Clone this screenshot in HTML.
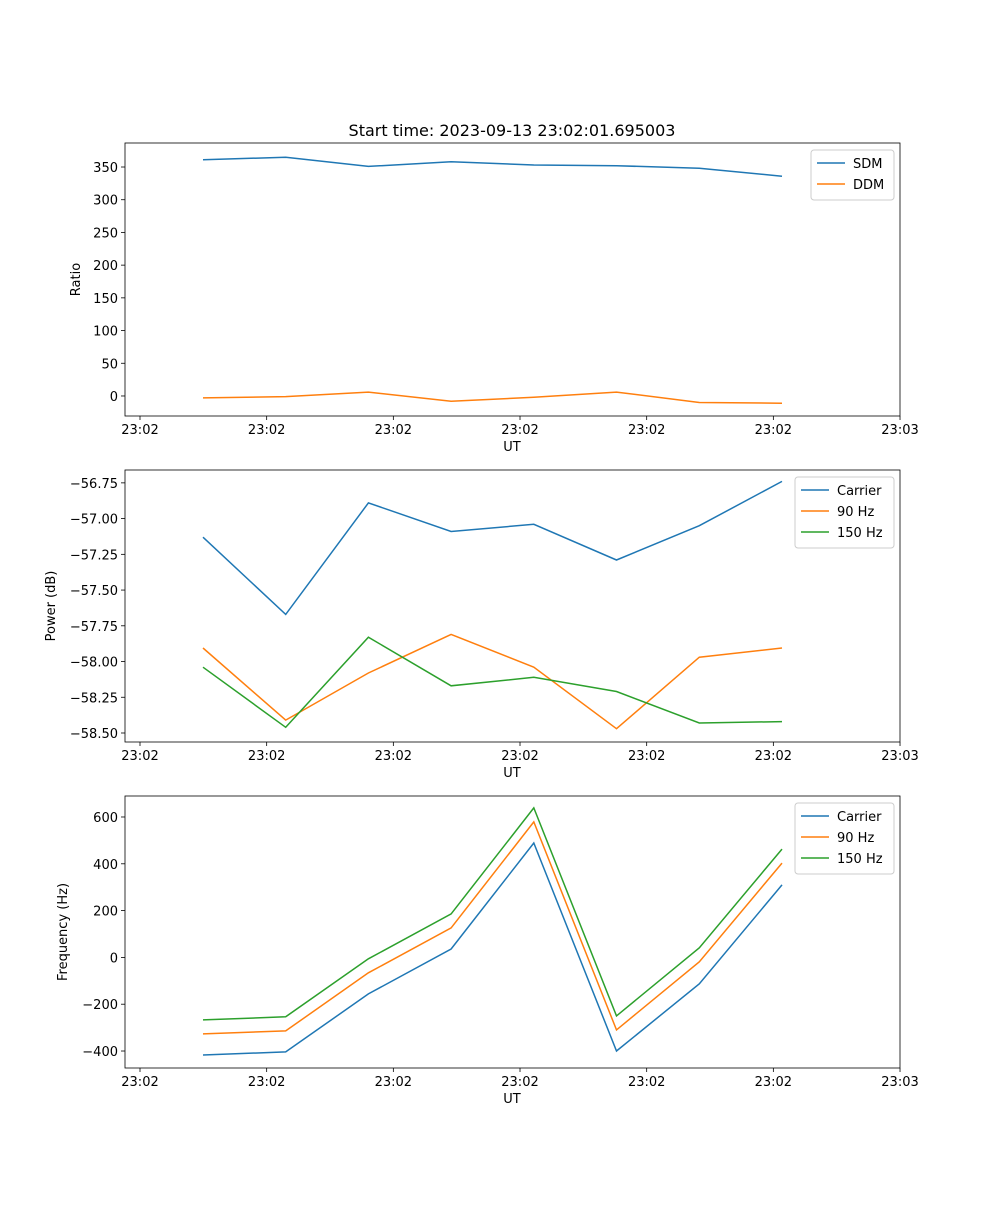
<!DOCTYPE html>
<html><head><meta charset="utf-8"><style>
body{margin:0;background:#fff}
svg text{font-family:"DejaVu Sans","Liberation Sans",sans-serif;fill:#000}
</style></head><body>
<svg id="fig" width="1000" height="1200" xmlns="http://www.w3.org/2000/svg">
<text x="512" y="136" font-size="16" text-anchor="middle">Start time: 2023-09-13 23:02:01.695003</text>
</svg>
<script>
const xTickLabels=["23:02","23:02","23:02","23:02","23:02","23:02","23:03"];
const sdm=[361,365,351,358,353,352,348,336];
const ddm=[-3,-1,6,-8,-2,6,-10,-11];
const pCarrier=[-57.13,-57.67,-56.89,-57.09,-57.04,-57.29,-57.05,-56.74];
const p90=[-57.905,-58.41,-58.08,-57.81,-58.04,-58.47,-57.97,-57.905];
const p150=[-58.04,-58.46,-57.83,-58.17,-58.11,-58.21,-58.43,-58.42];
const fCarrier=[-417,-404,-156,36,489,-400,-113,310];
const f90=[-327,-314,-66,126,579,-310,-19,403];
const f150=[-267,-254,-6,186,639,-250,41,463];
const ratioTicks=[0,50,100,150,200,250,300,350];
const powerTicks=[-58.5,-58.25,-58.0,-57.75,-57.5,-57.25,-57.0,-56.75];
const freqTicks=[-400,-200,0,200,400,600];

const svg=document.getElementById('fig');
const NS='http://www.w3.org/2000/svg';
function mk(t,a,p){const e=document.createElementNS(NS,t);for(const k in a)e.setAttribute(k,a[k]);(p||svg).appendChild(e);return e;}
const L=125,R=900;
function xPos(i){return 203+i*82.71;}
function xTickPos(i){return 140+i*126.67;}
function panel(name,top,bot,ymin,ymax,yticks,fmt,ylabel,series,legendW){
  const g=mk('g',{});
  
  
  const y=v=>bot-(v-ymin)/(ymax-ymin)*(bot-top);
  series.forEach(s=>{
    const pts=s.data.map((v,i)=>xPos(i).toFixed(1)+','+y(v).toFixed(1)).join(' ');
    const pl=mk('polyline',{points:pts,fill:'none',stroke:s.color,'stroke-width':1.5},g);
    
    
  });
  const fr=mk('rect',{x:L,y:top,width:R-L,height:bot-top,fill:'none',stroke:'#000','stroke-width':0.8},g);
  
  
  xTickLabels.forEach((t,i)=>{
    const x=xTickPos(i);
    mk('line',{x1:x,x2:x,y1:bot,y2:bot+4,stroke:'#000','stroke-width':0.8},g);
    const tx=mk('text',{x:x,y:bot+18,'font-size':13,'text-anchor':'middle'},g);tx.textContent=t;
    
    
  });
  yticks.forEach(v=>{
    const yy=y(v);
    mk('line',{x1:L-4,x2:L,y1:yy,y2:yy,stroke:'#000','stroke-width':0.8},g);
    const tx=mk('text',{x:L-7,y:yy+5,'font-size':13,'text-anchor':'end'},g);tx.textContent=fmt(v);
    
    
  });
  const xl=mk('text',{x:512,y:bot+35,'font-size':13,'text-anchor':'middle'},g);xl.textContent='UT';
  
  
  const yl=mk('text',{x:0,y:0,'font-size':13,'text-anchor':'middle',transform:`translate(${ylabel.x},${(top+bot)/2}) rotate(-90)`},g);yl.textContent=ylabel.t;
  
  
  const lg=mk('g',{},g);
  
  
  const lx=R-6-legendW, ly=top+7;
  mk('rect',{x:lx,y:ly,width:legendW,height:series.length*21+8,rx:3,fill:'#fff',stroke:'#ccc'},lg);
  series.forEach((s,i)=>{
    const yy=ly+13+i*21;
    mk('line',{x1:lx+6,x2:lx+34,y1:yy,y2:yy,stroke:s.color,'stroke-width':1.5},lg);
    const t=mk('text',{x:lx+42,y:yy+5,'font-size':13},lg);t.textContent=s.label;
    
    
  });
}
panel('ratio',143,416,-30.6,386.7,ratioTicks,v=>String(v),{x:80,t:'Ratio'},
 [{key:'sdm',label:'SDM',data:sdm,color:'#1f77b4'},{key:'ddm',label:'DDM',data:ddm,color:'#ff7f0e'}],83);
panel('power',470,742,-58.563,-56.66,powerTicks,v=>'\u2212'+Math.abs(v).toFixed(2),{x:55,t:'Power (dB)'},
 [{key:'carrier',label:'Carrier',data:pCarrier,color:'#1f77b4'},{key:'90hz',label:'90 Hz',data:p90,color:'#ff7f0e'},{key:'150hz',label:'150 Hz',data:p150,color:'#2ca02c'}],99);
panel('frequency',796,1068,-472.6,689.7,freqTicks,v=>(v<0?'\u2212':'')+Math.abs(v),{x:67,t:'Frequency (Hz)'},
 [{key:'carrier',label:'Carrier',data:fCarrier,color:'#1f77b4'},{key:'90hz',label:'90 Hz',data:f90,color:'#ff7f0e'},{key:'150hz',label:'150 Hz',data:f150,color:'#2ca02c'}],99);
</script>
</body></html>
